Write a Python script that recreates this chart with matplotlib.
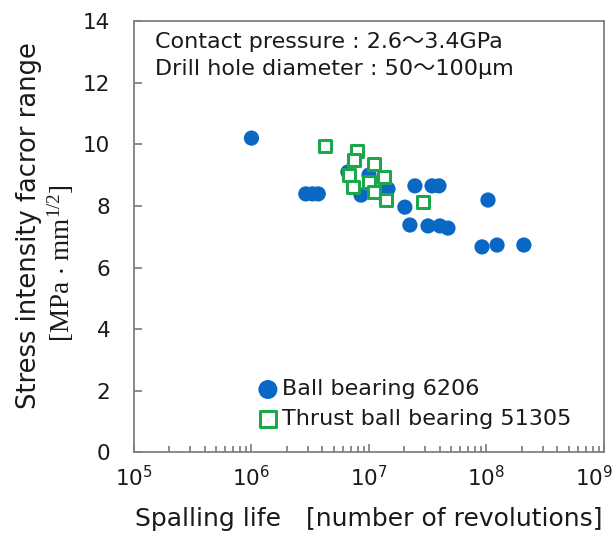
import matplotlib
matplotlib.use("Agg")
import matplotlib.pyplot as plt
import matplotlib.transforms as mtrans
from matplotlib.ticker import LogLocator, NullFormatter, FixedLocator, LogFormatterSciNotation

plt.rcParams['font.family'] = ['DejaVu Sans', 'Noto Sans CJK JP']
plt.rcParams['mathtext.default'] = 'regular'

# Ball bearing 6206 (spalling life [rev], stress intensity factor range)
ball_life = [1.0e6, 2.9e6, 3.3e6, 3.7e6, 6.62e6, 8.55e6, 1.0e7, 1.45e7,
             2.02e7, 2.23e7, 2.46e7, 3.18e7, 3.44e7, 3.94e7, 4.02e7, 4.7e7,
             9.16e7, 1.03e8, 1.23e8, 2.08e8]
ball_k = [10.2, 8.39, 8.39, 8.39, 9.1, 8.35, 9.0, 8.55,
          7.96, 7.38, 8.65, 7.35, 8.65, 8.65, 7.35, 7.28,
          6.67, 8.19, 6.73, 6.73]

# Thrust ball bearing 51305
thrust_life = [4.23e6, 7.91e6, 7.45e6, 1.10e7, 6.76e6, 1.34e7, 1.0e7,
               7.3e6, 1.10e7, 1.40e7, 2.88e7]
thrust_k = [9.94, 9.78, 9.49, 9.36, 9.0, 8.94, 8.78,
            8.61, 8.45, 8.19, 8.13]

xticks = [1e5, 1e6, 1e7, 1e8, 1e9]
yticks = [0, 2, 4, 6, 8, 10, 12, 14]

blue = '#0868C4'
green = '#1BA84A'
textc = '#1a1a1a'

fig = plt.figure(figsize=(6.16, 5.38), dpi=100)
ax = fig.add_axes([0.2175, 0.159, 0.763, 0.802])

ax.scatter(ball_life, ball_k, s=120, marker='o', color=blue, edgecolors='none',
           label='Ball bearing 6206', zorder=2)
ax.scatter(thrust_life, thrust_k, s=85, marker='s', facecolors='white',
           edgecolors=green, linewidths=2.2, label='Thrust ball bearing 51305', zorder=3)

ax.set_xscale('log')
ax.set_xlim(1e5, 1e9)
ax.set_ylim(0, 14)
ax.set_yticks(yticks)
ax.xaxis.set_major_locator(FixedLocator(xticks))
ax.xaxis.set_major_formatter(LogFormatterSciNotation(base=10))
ax.xaxis.set_minor_locator(LogLocator(base=10, subs=range(2, 10), numticks=20))
ax.xaxis.set_minor_formatter(NullFormatter())

for sp in ax.spines.values():
    sp.set_color('#808080')
    sp.set_linewidth(1.3)

ax.tick_params(axis='both', which='both', direction='in', colors='#6e6e6e',
               labelcolor=textc, labelsize=15.5, width=1.1)
ax.tick_params(axis='x', which='major', length=6, pad=9)
ax.tick_params(axis='x', which='minor', length=4.5)
ax.tick_params(axis='y', which='major', length=6, pad=17)

# the last x tick label is pulled left so that it stays inside the figure
offset = mtrans.ScaledTranslation(-10 / 100, 0, fig.dpi_scale_trans)
last_tick = ax.xaxis.get_major_ticks()[len(xticks) - 1]
last_tick.label1.set_transform(last_tick.label1.get_transform() + offset)

ax.set_xlabel('Spalling life\u3000[number of revolutions]', fontsize=18,
              color=textc, labelpad=12)

fig.text(0.047, 0.58, 'Stress intensity facror range', rotation=90,
         ha='center', va='center', fontsize=18.5, color=textc)
fig.text(0.098, 0.511, r'[MPa $\cdot$ mm$^{1/2}$]', rotation=90, ha='center',
         va='center', fontsize=19.5, color=textc,
         family=['Liberation Serif', 'DejaVu Serif'],
         math_fontfamily='stix')

ax.text(0.045, 0.975, 'Contact pressure : 2.6～3.4GPa\nDrill hole diameter : 50～100μm',
        transform=ax.transAxes, ha='left', va='top', fontsize=16,
        color=textc, linespacing=1.45)

leg = ax.legend(loc='lower left', bbox_to_anchor=(0.24, 0.033), frameon=False,
                fontsize=16, handletextpad=0.1, labelspacing=0.45,
                borderaxespad=0, handlelength=1.1, markerscale=1.25)
for t in leg.get_texts():
    t.set_color(textc)

fig.savefig('out.png', dpi=100)
